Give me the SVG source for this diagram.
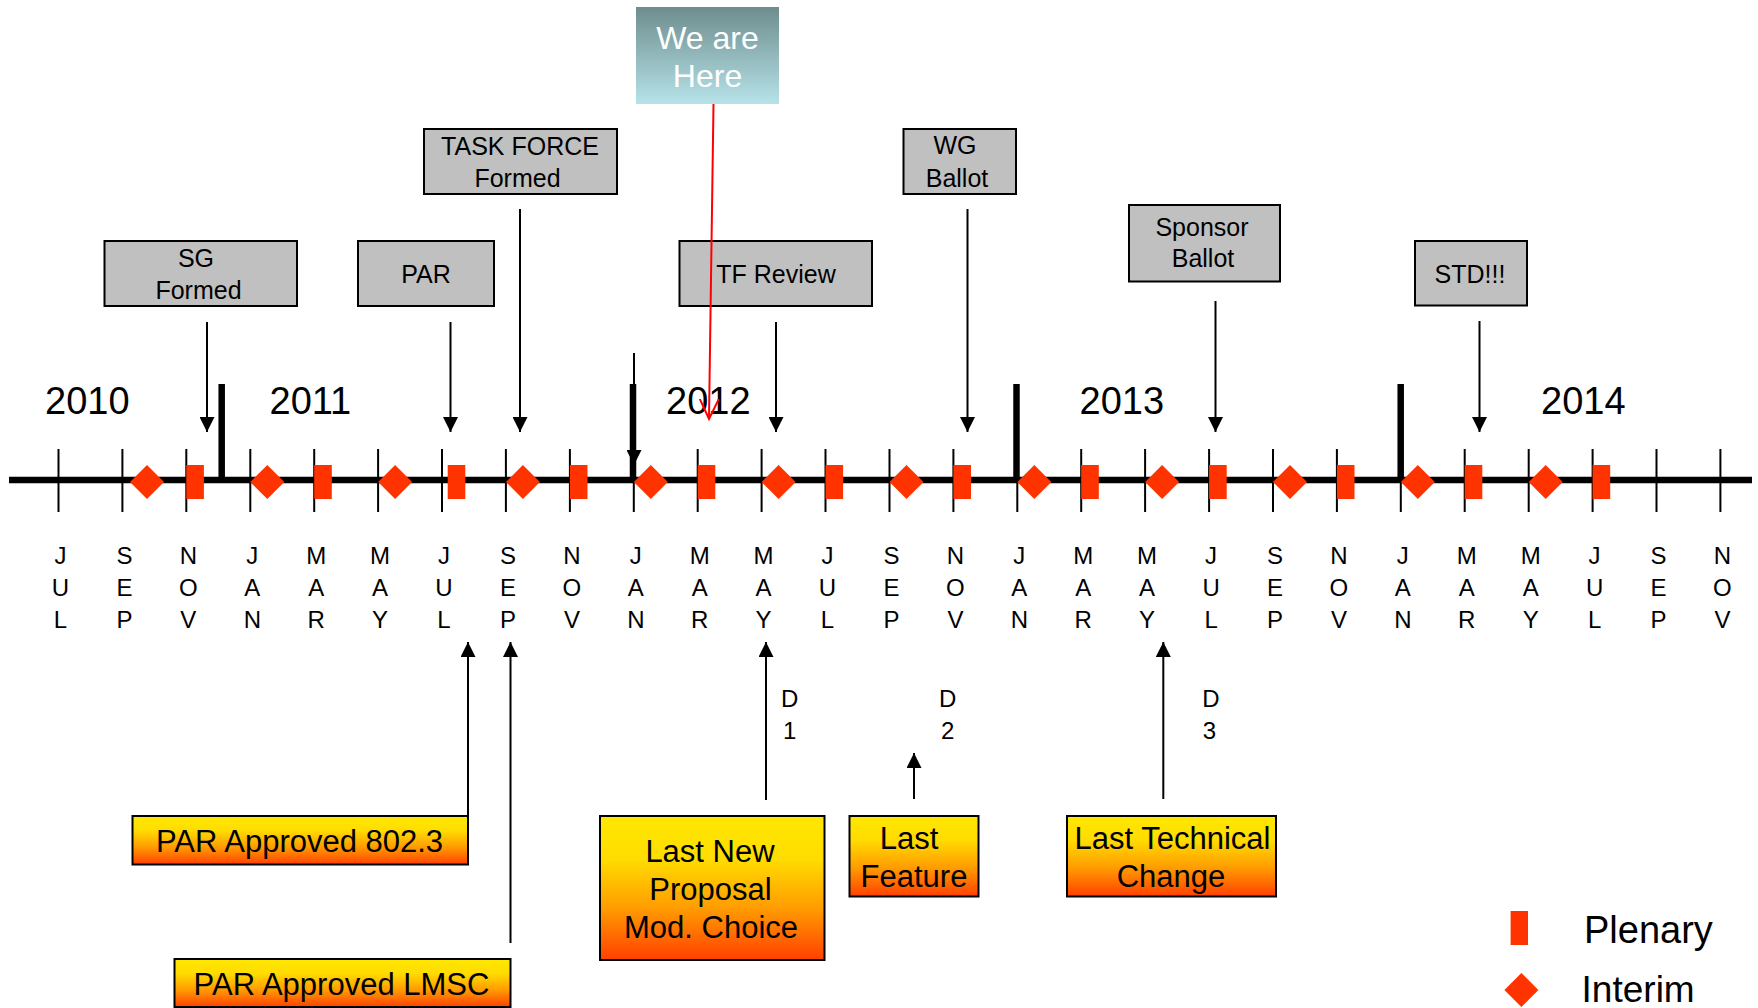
<svg xmlns="http://www.w3.org/2000/svg" xmlns:xlink="http://www.w3.org/1999/xlink" width="1758" height="1008" viewBox="0 0 1758 1008">
<style>
  text { font-family: "Liberation Sans", Arial, sans-serif; fill: #000; }
  .box { fill: #C0C0C0; stroke: #000; stroke-width: 2; }
  .obox { fill: url(#gOrange); stroke: #000; stroke-width: 2; }
  .bt { font-size: 25px; text-anchor: middle; }
  .ot { font-size: 31px; text-anchor: middle; }
  .yr { font-size: 38px; }
  .mo { font-size: 24px; text-anchor: middle; }
  .dl { font-size: 24px; text-anchor: middle; }
  .lg { font-size: 38px; }
  .tick { stroke: #000; stroke-width: 2; }
  .div { stroke: #000; stroke-width: 6.5; }
  .arr { stroke: #000; stroke-width: 2; fill: none; marker-end: url(#ah); }
  .mk { fill: #FF3300; }
</style>
<defs>
  <linearGradient id="gOrange" x1="0" y1="0" x2="0" y2="1">
    <stop offset="0" stop-color="#FFE800"/>
    <stop offset="0.3" stop-color="#FFDC00"/>
    <stop offset="0.65" stop-color="#FF9A00"/>
    <stop offset="1" stop-color="#FF4000"/>
  </linearGradient>
  <linearGradient id="gTeal" x1="0" y1="0" x2="0" y2="1">
    <stop offset="0" stop-color="#6E8D8D"/>
    <stop offset="1" stop-color="#B6E3E9"/>
  </linearGradient>
  <marker id="ah" viewBox="0 0 15 15" refX="15" refY="7.5" markerWidth="15" markerHeight="15" markerUnits="userSpaceOnUse" orient="auto">
    <path d="M0,0 L15,7.5 L0,15 Z" fill="#000"/>
  </marker>
  <marker id="ahRed" viewBox="0 0 22 22" refX="20" refY="11" markerWidth="22" markerHeight="22" markerUnits="userSpaceOnUse" orient="auto">
    <path d="M0,1.5 L20,11 L0,20.5" fill="none" stroke="#FF0000" stroke-width="2"/>
  </marker>
  <path id="dia" class="mk" d="M-17,0 L0,-17 L17,0 L0,17 Z"/>
  <rect id="ple" class="mk" x="0" y="0" width="17.6" height="34"/>
</defs>

<g id="timeline">
  <line x1="9" y1="480" x2="1752" y2="480" stroke="#000" stroke-width="6.5"/>
  <g id="ticks">
    <line class="tick" x1="58.5" y1="449" x2="58.5" y2="512"/>
    <line class="tick" x1="122.4" y1="449" x2="122.4" y2="512"/>
    <line class="tick" x1="186.3" y1="449" x2="186.3" y2="512"/>
    <line class="tick" x1="250.3" y1="449" x2="250.3" y2="512"/>
    <line class="tick" x1="314.2" y1="449" x2="314.2" y2="512"/>
    <line class="tick" x1="378.1" y1="449" x2="378.1" y2="512"/>
    <line class="tick" x1="442" y1="449" x2="442" y2="512"/>
    <line class="tick" x1="505.9" y1="449" x2="505.9" y2="512"/>
    <line class="tick" x1="569.9" y1="449" x2="569.9" y2="512"/>
    <line class="tick" x1="633.8" y1="449" x2="633.8" y2="512"/>
    <line class="tick" x1="697.7" y1="449" x2="697.7" y2="512"/>
    <line class="tick" x1="761.6" y1="449" x2="761.6" y2="512"/>
    <line class="tick" x1="825.5" y1="449" x2="825.5" y2="512"/>
    <line class="tick" x1="889.5" y1="449" x2="889.5" y2="512"/>
    <line class="tick" x1="953.4" y1="449" x2="953.4" y2="512"/>
    <line class="tick" x1="1017.3" y1="449" x2="1017.3" y2="512"/>
    <line class="tick" x1="1081.2" y1="449" x2="1081.2" y2="512"/>
    <line class="tick" x1="1145.1" y1="449" x2="1145.1" y2="512"/>
    <line class="tick" x1="1209.1" y1="449" x2="1209.1" y2="512"/>
    <line class="tick" x1="1273" y1="449" x2="1273" y2="512"/>
    <line class="tick" x1="1336.9" y1="449" x2="1336.9" y2="512"/>
    <line class="tick" x1="1400.8" y1="449" x2="1400.8" y2="512"/>
    <line class="tick" x1="1464.7" y1="449" x2="1464.7" y2="512"/>
    <line class="tick" x1="1528.7" y1="449" x2="1528.7" y2="512"/>
    <line class="tick" x1="1592.6" y1="449" x2="1592.6" y2="512"/>
    <line class="tick" x1="1656.5" y1="449" x2="1656.5" y2="512"/>
    <line class="tick" x1="1720.4" y1="449" x2="1720.4" y2="512"/>
  </g>
  <g id="year-dividers">
    <line class="div" x1="221.7" y1="384" x2="221.7" y2="480"/>
    <line class="div" x1="633" y1="384" x2="633" y2="480"/>
    <line class="div" x1="1016.5" y1="384" x2="1016.5" y2="480"/>
    <line class="div" x1="1400.7" y1="384" x2="1400.7" y2="480"/>
  </g>
  <g id="years">
    <text class="yr" x="45" y="414">2010</text>
    <text class="yr" x="269.5" y="414">2011</text>
    <text class="yr" x="666" y="414">2012</text>
    <text class="yr" x="1079.5" y="414">2013</text>
    <text class="yr" x="1541" y="414">2014</text>
  </g>
  <g id="interims">
    <use href="#dia" x="147" y="482"/>
    <use href="#dia" x="267.3" y="482"/>
    <use href="#dia" x="395.1" y="482"/>
    <use href="#dia" x="522.9" y="482"/>
    <use href="#dia" x="650.8" y="482"/>
    <use href="#dia" x="778.6" y="482"/>
    <use href="#dia" x="906.5" y="482"/>
    <use href="#dia" x="1034.3" y="482"/>
    <use href="#dia" x="1162.1" y="482"/>
    <use href="#dia" x="1290" y="482"/>
    <use href="#dia" x="1417.8" y="482"/>
    <use href="#dia" x="1545.7" y="482"/>
  </g>
  <g id="plenaries">
    <use href="#ple" x="186.3" y="465"/>
    <use href="#ple" x="314.2" y="465"/>
    <use href="#ple" x="447.7" y="465"/>
    <use href="#ple" x="569.9" y="465"/>
    <use href="#ple" x="697.7" y="465"/>
    <use href="#ple" x="825.5" y="465"/>
    <use href="#ple" x="953.4" y="465"/>
    <use href="#ple" x="1081.2" y="465"/>
    <use href="#ple" x="1209.1" y="465"/>
    <use href="#ple" x="1336.9" y="465"/>
    <use href="#ple" x="1464.7" y="465"/>
    <use href="#ple" x="1592.6" y="465"/>
  </g>
  <g id="months">
    <text class="mo"><tspan x="60.5" y="564">J</tspan><tspan x="60.5" y="596">U</tspan><tspan x="60.5" y="628">L</tspan></text>
    <text class="mo"><tspan x="124.4" y="564">S</tspan><tspan x="124.4" y="596">E</tspan><tspan x="124.4" y="628">P</tspan></text>
    <text class="mo"><tspan x="188.3" y="564">N</tspan><tspan x="188.3" y="596">O</tspan><tspan x="188.3" y="628">V</tspan></text>
    <text class="mo"><tspan x="252.3" y="564">J</tspan><tspan x="252.3" y="596">A</tspan><tspan x="252.3" y="628">N</tspan></text>
    <text class="mo"><tspan x="316.2" y="564">M</tspan><tspan x="316.2" y="596">A</tspan><tspan x="316.2" y="628">R</tspan></text>
    <text class="mo"><tspan x="380.1" y="564">M</tspan><tspan x="380.1" y="596">A</tspan><tspan x="380.1" y="628">Y</tspan></text>
    <text class="mo"><tspan x="444" y="564">J</tspan><tspan x="444" y="596">U</tspan><tspan x="444" y="628">L</tspan></text>
    <text class="mo"><tspan x="507.9" y="564">S</tspan><tspan x="507.9" y="596">E</tspan><tspan x="507.9" y="628">P</tspan></text>
    <text class="mo"><tspan x="571.9" y="564">N</tspan><tspan x="571.9" y="596">O</tspan><tspan x="571.9" y="628">V</tspan></text>
    <text class="mo"><tspan x="635.8" y="564">J</tspan><tspan x="635.8" y="596">A</tspan><tspan x="635.8" y="628">N</tspan></text>
    <text class="mo"><tspan x="699.7" y="564">M</tspan><tspan x="699.7" y="596">A</tspan><tspan x="699.7" y="628">R</tspan></text>
    <text class="mo"><tspan x="763.6" y="564">M</tspan><tspan x="763.6" y="596">A</tspan><tspan x="763.6" y="628">Y</tspan></text>
    <text class="mo"><tspan x="827.5" y="564">J</tspan><tspan x="827.5" y="596">U</tspan><tspan x="827.5" y="628">L</tspan></text>
    <text class="mo"><tspan x="891.5" y="564">S</tspan><tspan x="891.5" y="596">E</tspan><tspan x="891.5" y="628">P</tspan></text>
    <text class="mo"><tspan x="955.4" y="564">N</tspan><tspan x="955.4" y="596">O</tspan><tspan x="955.4" y="628">V</tspan></text>
    <text class="mo"><tspan x="1019.3" y="564">J</tspan><tspan x="1019.3" y="596">A</tspan><tspan x="1019.3" y="628">N</tspan></text>
    <text class="mo"><tspan x="1083.2" y="564">M</tspan><tspan x="1083.2" y="596">A</tspan><tspan x="1083.2" y="628">R</tspan></text>
    <text class="mo"><tspan x="1147.1" y="564">M</tspan><tspan x="1147.1" y="596">A</tspan><tspan x="1147.1" y="628">Y</tspan></text>
    <text class="mo"><tspan x="1211.1" y="564">J</tspan><tspan x="1211.1" y="596">U</tspan><tspan x="1211.1" y="628">L</tspan></text>
    <text class="mo"><tspan x="1275" y="564">S</tspan><tspan x="1275" y="596">E</tspan><tspan x="1275" y="628">P</tspan></text>
    <text class="mo"><tspan x="1338.9" y="564">N</tspan><tspan x="1338.9" y="596">O</tspan><tspan x="1338.9" y="628">V</tspan></text>
    <text class="mo"><tspan x="1402.8" y="564">J</tspan><tspan x="1402.8" y="596">A</tspan><tspan x="1402.8" y="628">N</tspan></text>
    <text class="mo"><tspan x="1466.7" y="564">M</tspan><tspan x="1466.7" y="596">A</tspan><tspan x="1466.7" y="628">R</tspan></text>
    <text class="mo"><tspan x="1530.7" y="564">M</tspan><tspan x="1530.7" y="596">A</tspan><tspan x="1530.7" y="628">Y</tspan></text>
    <text class="mo"><tspan x="1594.6" y="564">J</tspan><tspan x="1594.6" y="596">U</tspan><tspan x="1594.6" y="628">L</tspan></text>
    <text class="mo"><tspan x="1658.5" y="564">S</tspan><tspan x="1658.5" y="596">E</tspan><tspan x="1658.5" y="628">P</tspan></text>
    <text class="mo"><tspan x="1722.4" y="564">N</tspan><tspan x="1722.4" y="596">O</tspan><tspan x="1722.4" y="628">V</tspan></text>
  </g>
</g>

<g id="draft-labels">
  <text class="dl"><tspan x="789.6" y="707">D</tspan><tspan x="789.6" y="739">1</tspan></text>
  <text class="dl"><tspan x="947.6" y="707">D</tspan><tspan x="947.6" y="739">2</tspan></text>
  <text class="dl"><tspan x="1211" y="707">D</tspan><tspan x="1209.5" y="739">3</tspan></text>
</g>

<g id="node-we-are-here">
  <rect x="636" y="7" width="143" height="97" fill="url(#gTeal)"/>
  <text x="707.5" y="48.5" style="font-size:32px;text-anchor:middle;fill:#fff">We are</text>
  <text x="707.5" y="86.5" style="font-size:32px;text-anchor:middle;fill:#fff">Here</text>
</g>
<g id="node-sg-formed">
  <rect class="box" x="104.5" y="241" width="192.5" height="65"/>
  <text class="bt" x="196" y="267">SG</text>
  <text class="bt" x="198.5" y="299">Formed</text>
</g>
<g id="node-par">
  <rect class="box" x="358" y="241" width="136" height="65"/>
  <text class="bt" x="426" y="283">PAR</text>
</g>
<g id="node-task-force">
  <rect class="box" x="424" y="129" width="193" height="65"/>
  <text class="bt" x="520" y="155">TASK FORCE</text>
  <text class="bt" x="517.5" y="187">Formed</text>
</g>
<g id="node-tf-review">
  <rect class="box" x="679.5" y="241" width="192.5" height="65"/>
  <text class="bt" x="776" y="283">TF Review</text>
</g>
<g id="node-wg-ballot">
  <rect class="box" x="903.5" y="129" width="112.5" height="65"/>
  <text class="bt" x="955" y="154">WG</text>
  <text class="bt" x="957" y="187">Ballot</text>
</g>
<g id="node-sponsor-ballot">
  <rect class="box" x="1129" y="205" width="151" height="76.5"/>
  <text class="bt" x="1202" y="236">Sponsor</text>
  <text class="bt" x="1203" y="267">Ballot</text>
</g>
<g id="node-std">
  <rect class="box" x="1415" y="241" width="112" height="64.5"/>
  <text class="bt" x="1470" y="283">STD!!!</text>
</g>

<g id="node-par-802-3">
  <rect class="obox" x="132.5" y="816" width="335.5" height="48.5"/>
  <text class="ot" x="299.5" y="851.5">PAR Approved 802.3</text>
</g>
<g id="node-par-lmsc">
  <rect class="obox" x="174.5" y="959" width="336" height="48"/>
  <text class="ot" x="341.5" y="995">PAR Approved LMSC</text>
</g>
<g id="node-last-new-proposal">
  <rect class="obox" x="600" y="816" width="224.5" height="144"/>
  <text class="ot" x="710" y="861.5">Last New</text>
  <text class="ot" x="710.5" y="900">Proposal</text>
  <text class="ot" x="711" y="937.5">Mod. Choice</text>
</g>
<g id="node-last-feature">
  <rect class="obox" x="849.5" y="816" width="129" height="80.5"/>
  <text class="ot" x="909" y="849">Last</text>
  <text class="ot" x="914" y="886.5">Feature</text>
</g>
<g id="node-last-technical-change">
  <rect class="obox" x="1067" y="816" width="209" height="80.5"/>
  <text class="ot" x="1172.5" y="849">Last Technical</text>
  <text class="ot" x="1171" y="886.5">Change</text>
</g>

<g id="legend">
  <rect class="mk" x="1510.6" y="911" width="17.4" height="34"/>
  <text class="lg" x="1584" y="943">Plenary</text>
  <use href="#dia" x="1521.4" y="990"/>
  <text class="lg" x="1581.6" y="1002" style="font-size:37px">Interim</text>
</g>

<g id="connectors">
  <line class="arr" x1="207" y1="322" x2="207" y2="432"/>
  <line class="arr" x1="450.5" y1="322" x2="450.5" y2="432"/>
  <line class="arr" x1="520" y1="209" x2="520" y2="432"/>
  <line class="arr" x1="776" y1="322" x2="776" y2="432"/>
  <line class="arr" x1="967.5" y1="209" x2="967.5" y2="432"/>
  <line class="arr" x1="1215.5" y1="301" x2="1215.5" y2="432"/>
  <line class="arr" x1="1479.5" y1="321" x2="1479.5" y2="432"/>
  <line class="arr" x1="634" y1="353" x2="634" y2="465"/>
  <line class="arr" x1="468" y1="816" x2="468" y2="642"/>
  <line class="arr" x1="510.5" y1="943" x2="510.5" y2="642"/>
  <line class="arr" x1="766" y1="800" x2="766" y2="642"/>
  <line class="arr" x1="914" y1="799" x2="914" y2="753"/>
  <line class="arr" x1="1163.3" y1="799" x2="1163.3" y2="642"/>
  <line x1="713.5" y1="104" x2="709" y2="419" stroke="#FF0000" stroke-width="2" marker-end="url(#ahRed)"/>
</g>
</svg>
